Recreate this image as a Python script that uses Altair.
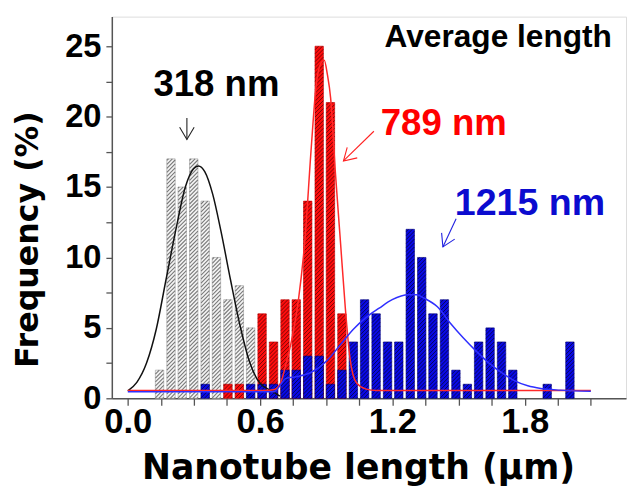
import altair as alt
import pandas as pd

# ---------------- data ----------------
bin_centers = [0.144, 0.196, 0.247, 0.299, 0.351, 0.402, 0.454, 0.506, 0.557,
               0.609, 0.661, 0.713, 0.764, 0.816, 0.868, 0.919, 0.971, 1.023,
               1.074, 1.126, 1.178, 1.229, 1.281, 1.333, 1.384, 1.436, 1.488,
               1.540, 1.591, 1.643, 1.695, 1.746, 1.798, 1.850, 1.902, 1.953, 2.005]
gray_freq = [2, 17, 15, 17, 14, 10, 7, 8, 5,
             0, 0, 0, 0, 0, 0, 0, 0, 0, 0, 0, 0, 0, 0, 0, 0, 0, 0, 0, 0, 0, 0, 0, 0, 0, 0, 0, 0]
red_freq = [0, 0, 0, 0, 0, 0, 1, 1, 0,
            6, 4, 7, 7, 14, 25, 21, 6, 0, 0, 0, 0, 0, 0, 0, 0, 0, 0, 0, 0, 0, 0, 0, 0, 0, 0, 0, 0]
blue_freq = [0, 0, 0, 0, 1, 0, 0, 0, 1,
             1, 1, 2, 2, 3, 3, 1, 2, 4, 7, 6, 4, 4, 12, 10, 6, 7, 2, 1, 4, 5, 4, 2, 0, 0, 1, 0, 4]

black_fit_x = [0.0, 0.041, 0.085, 0.129, 0.173, 0.217, 0.261, 0.298, 0.32, 0.349,
               0.385, 0.422, 0.466, 0.51, 0.554, 0.598, 0.656, 0.69]
black_fit_y = [0.53, 1.13, 2.5, 4.9, 8.4, 11.9, 15.0, 16.3, 16.5, 16.1,
               14.5, 11.9, 8.4, 5.1, 2.5, 1.1, 0.5, 0.15]

red_fit_x = [0.0, 0.62, 0.66, 0.69, 0.72, 0.744, 0.774, 0.803, 0.832, 0.854, 0.876,
             0.891, 0.905, 0.92, 0.942, 0.964, 0.986, 1.008, 1.037, 1.081, 1.125, 2.1]
red_fit_y = [0.55, 0.55, 0.6, 1.0, 2.6, 4.2, 7.0, 11.2, 17.8, 22.2, 23.8,
             24.0, 23.0, 21.3, 15.9, 11.2, 6.5, 2.8, 1.1, 0.65, 0.55, 0.55]

blue_fit_x = [0.0, 0.665, 0.69, 0.715, 0.77, 0.832, 0.905, 0.964, 1.023, 1.081, 1.14,
              1.199, 1.272, 1.309, 1.345, 1.404, 1.462, 1.521, 1.58, 1.638, 1.697,
              1.755, 1.814, 1.873, 1.96, 2.1]
blue_fit_y = [0.47, 0.47, 0.9, 1.4, 1.55, 1.85, 2.7, 3.8, 4.9, 5.75, 6.4,
              7.0, 7.35, 7.35, 7.1, 6.5, 5.35, 4.3, 3.35, 2.5, 1.8,
              1.24, 0.89, 0.7, 0.58, 0.5]

label_texts = ["Average length", "318 nm", "789 nm", "1215 nm"]
label_x = [1.68, 0.402, 1.433, 1.824]
label_y = [24.95, 21.43, 18.73, 12.98]

arrow_x0 = [0.268, 1.116, 1.489]
arrow_y0 = [19.9, 18.96, 12.75]
arrow_x1 = [0.268, 0.978, 1.429]
arrow_y1 = [18.38, 16.85, 10.75]

x_ticks = [0.0, 0.15, 0.3, 0.45, 0.6, 0.75, 0.9, 1.05, 1.2, 1.35, 1.5, 1.65, 1.8, 1.95, 2.1]
y_ticks = [0, 2.5, 5, 7.5, 10, 12.5, 15, 17.5, 20, 22.5, 25]

# ---------------- layout / style ----------------
W, H = 520, 386
XDOM = [-0.05, 2.237]
YDOM = [0, 27.1]
PXX = W / (XDOM[1] - XDOM[0])
PXY = H / (YDOM[1] - YDOM[0])
BAR_W = 8.5
HATCH_SP = 4.0
FONT = "Liberation Sans"
TFONT = "DejaVu Sans"

xs = alt.Scale(domain=XDOM, nice=False, zero=False)
ys = alt.Scale(domain=YDOM, nice=False, zero=False)

x_axis = alt.Axis(values=x_ticks, grid=False, tickSize=7, tickWidth=1.3,
                  tickColor="#555", domainColor="#555", domainWidth=1.5,
                  labelExpr="(round(datum.value*100) % 60 == 0) ? format(datum.value, '.1f') : ''",
                  labelFont=FONT, labelFontSize=35, labelFontWeight="bold",
                  labelColor="black", labelPadding=0, labelFlush=False,
                  title="Nanotube length (µm)",
                  titleFont=TFONT, titleFontSize=35, titleFontWeight="bold",
                  titleColor="black", titleX=249, titleY=81,
                  titleBaseline="alphabetic", titleAlign="center", titleAnchor="start")
y_axis = alt.Axis(values=y_ticks, grid=False, tickSize=6,
                  tickWidth=1.3, tickColor="#555", domainColor="#555", domainWidth=1.5,
                  labelExpr="(datum.value % 5 === 0) ? format(datum.value, 'd') : ''",
                  labelFont=FONT, labelFontSize=33, labelFontWeight="bold",
                  labelColor="black", labelPadding=5, labelFlush=False,
                  title="Frequency (%)",
                  titleFont=TFONT, titleFontSize=32, titleFontWeight="bold",
                  titleColor="black", titleAngle=-90, titleX=-85, titleY=225,
                  titleBaseline="middle", titleAlign="center", titleAnchor="start")


def X(field):
    return alt.X(field, type="quantitative", scale=xs, axis=x_axis)


def Y(field):
    return alt.Y(field, type="quantitative", scale=ys, axis=y_axis)


def bars_df(freq):
    d = pd.DataFrame({"x": bin_centers, "f": freq})
    return d[d.f > 0].reset_index(drop=True)


def hatch_df(d):
    rows = []
    for c, h in zip(d.x, d.f):
        hp = h * PXY
        left = c - BAR_W / 2 / PXX
        b = -BAR_W + 1.0
        while b < hp:
            x1 = max(0.0, -b)
            x2 = min(BAR_W, hp - b)
            if x2 > x1:
                rows.append({"x": left + x1 / PXX, "y": (x1 + b) / PXY,
                             "x2": left + x2 / PXX, "y2": (x2 + b) / PXY})
            b += HATCH_SP
    return pd.DataFrame(rows)


def bar_layer(freq, fill, stroke, hatch_color, hatch_w, hatch_op):
    d = bars_df(freq)
    bars = alt.Chart(d).mark_bar(size=BAR_W, fill=fill, stroke=stroke,
                                 strokeWidth=0.6).encode(x=X("x"), y=Y("f"))
    h = alt.Chart(hatch_df(d)).mark_rule(color=hatch_color, strokeWidth=hatch_w,
                                         opacity=hatch_op).encode(
        x=X("x"), y=Y("y"), x2="x2:Q", y2="y2:Q")
    return bars + h


def curve(xv, yv, color):
    d = pd.DataFrame({"x": xv, "y": yv})
    return alt.Chart(d).mark_line(color=color, strokeWidth=1.5,
                                  interpolate="monotone").encode(x=X("x"), y=Y("y"))


gray = bar_layer(gray_freq, "#f4f4f4", "#9a9a9a", "#6a6a6a", 1.1, 0.9)
red = bar_layer(red_freq, "#ff0d0d", "#c00000", "#200000", 1.0, 0.6)
blue = bar_layer(blue_freq, "#0a0ae6", "#00007a", "#000000", 1.0, 0.6)

fits = (curve(black_fit_x, black_fit_y, "#111111")
        + curve(red_fit_x, red_fit_y, "#ff2a2a")
        + curve(blue_fit_x, blue_fit_y, "#2f2fff"))

txt = pd.DataFrame({"t": label_texts, "x": label_x, "y": label_y,
                    "c": ["black", "black", "#ff0000", "#0b0bcf"],
                    "s": [32, 37, 37, 38]})
texts = alt.Chart(txt).mark_text(font=FONT, fontWeight="bold", align="center",
                                 baseline="alphabetic").encode(
    x=X("x"), y=Y("y"),
    text="t:N",
    color=alt.Color("c:N", scale=None),
    size=alt.Size("s:Q", scale=None),
)

arr = pd.DataFrame({"x": arrow_x0, "y": arrow_y0, "x2": arrow_x1, "y2": arrow_y1,
                    "c": ["#222222", "#ff2020", "#2020e0"],
                    "a": [0, 46.4, 25.7]})
shafts = alt.Chart(arr).mark_rule(strokeWidth=1.1).encode(
    x=X("x"), y=Y("y"), x2="x2:Q", y2="y2:Q",
    color=alt.Color("c:N", scale=None),
)
heads = alt.Chart(arr).mark_point(shape="M-0.6,-1L0,0L0.6,-1", filled=False,
                                  size=600, strokeWidth=1.1, opacity=1).encode(
    x=X("x2"), y=Y("y2"),
    color=alt.Color("c:N", scale=None),
    angle=alt.Angle("a:Q", scale=None),
)

chart = alt.layer(gray, red, blue, fits, shafts, heads, texts).properties(
    width=W, height=H,
    autosize=alt.AutoSizeParams(type="none"),
    padding={"left": 105, "top": 6, "right": 1, "bottom": 88},
).configure_view(stroke="#888888", strokeWidth=1.5).configure(background="white")

chart.save("out.html", embed_options={"renderer": "svg", "actions": False})
